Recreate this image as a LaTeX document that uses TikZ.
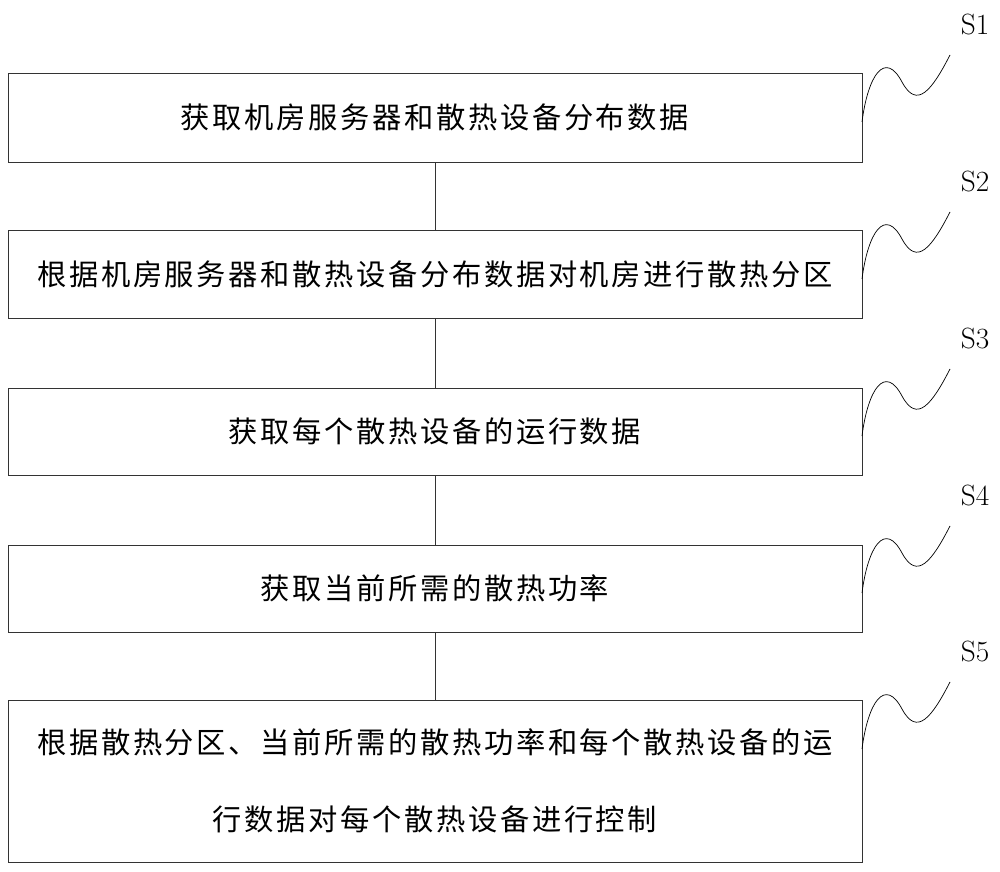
\documentclass[tikz,border=0pt]{standalone}
\usepackage{fontspec}
\newfontfamily\cjk[LetterSpace=9]{Noto Sans CJK SC}
\tikzset{
  stepbox/.style={draw=black!80, line width=0.6pt, minimum width=25.62cm, inner sep=0pt, align=center, font=\cjk\fontsize{25}{66}\selectfont},
  tag/.style={font=\fontsize{25}{30}\selectfont, inner sep=0pt},
  wave/.style={line width=0.6pt}
}
\begin{document}
\begin{tikzpicture}[x=0.03cm, y=-0.03cm]
    \useasboundingbox (0,0) rectangle (1000,872);
    \node [stepbox, minimum height=2.67cm] (s1) at (435,117.5) {获取机房服务器和散热设备分布数据};
    \node [stepbox, minimum height=2.64cm] (s2) at (435,274) {根据机房服务器和散热设备分布数据对机房进行散热分区};
    \node [stepbox, minimum height=2.61cm] (s3) at (435,431.5) {获取每个散热设备的运行数据};
    \node [stepbox, minimum height=2.61cm] (s4) at (435,588.5) {获取当前所需的散热功率};
    \node [stepbox, minimum height=4.86cm] (s5) at (435,781) {根据散热分区、当前所需的散热功率和每个散热设备的运\\行数据对每个散热设备进行控制};
    \draw [black!80, line width=0.6pt] (s1) -- (s2);
    \draw [black!80, line width=0.6pt] (s2) -- (s3);
    \draw [black!80, line width=0.6pt] (s3) -- (s4);
    \draw [black!80, line width=0.6pt] (s4) -- (s5);
    % step tags with squiggles
    \foreach \i/\y in {1/0, 2/157, 3/314, 4/471, 5/627} {
      \node [tag] (t\i) at (975,24+\y) {S\i};
      \draw [wave] (862,122+\y) .. controls (868,75+\y) and (885,50+\y) .. (902,82+\y)
                   .. controls (917,110+\y) and (932,90+\y) .. (950,55+\y);
    }
\end{tikzpicture}
\end{document}
